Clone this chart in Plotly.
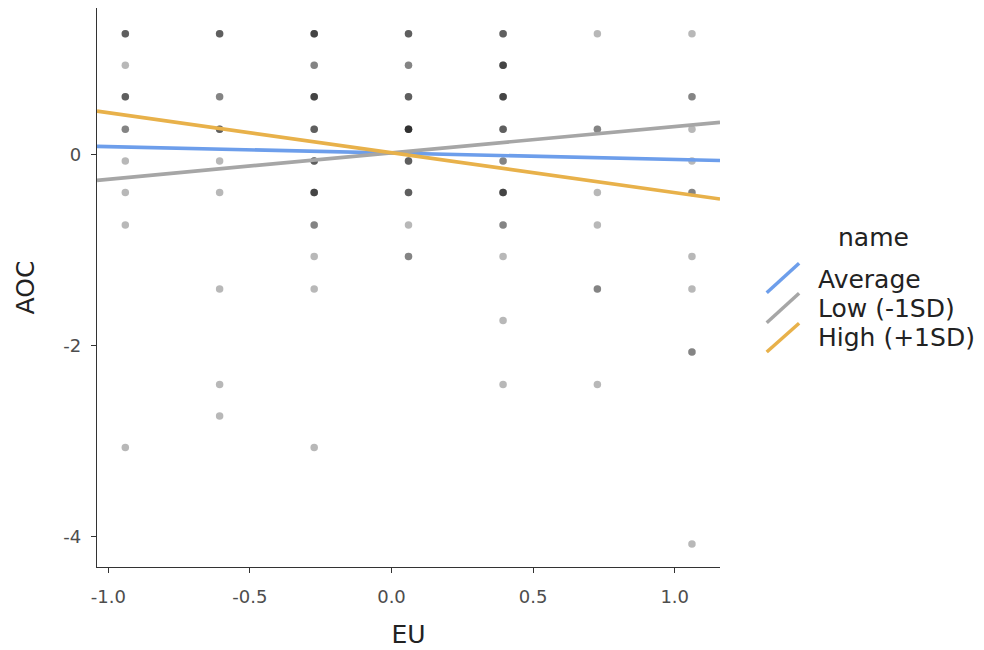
import plotly.graph_objects as go

# ---------------- data ----------------
# scatter observations grouped by (EU, AOC) with number of overlapping points
point_eu = (
    [-0.94] * 8 + [-0.607] * 8 + [-0.273] * 10 + [0.06] * 8 +
    [0.394] * 10 + [0.727] * 6 + [1.061] * 9
)
point_aoc = [
    1.26, 0.93, 0.60, 0.26, -0.07, -0.40, -0.74, -3.07,
    1.26, 0.60, 0.26, -0.07, -0.40, -1.41, -2.41, -2.74,
    1.26, 0.93, 0.60, 0.26, -0.07, -0.40, -0.74, -1.07, -1.41, -3.07,
    1.26, 0.93, 0.60, 0.26, -0.07, -0.40, -0.74, -1.07,
    1.26, 0.93, 0.60, 0.26, -0.07, -0.40, -0.74, -1.07, -1.74, -2.41,
    1.26, 0.26, -0.40, -0.74, -1.41, -2.41,
    1.26, 0.60, 0.26, -0.07, -0.40, -1.07, -1.41, -2.07, -4.08,
]
point_count = [
    3, 1, 3, 2, 1, 1, 1, 1,
    3, 2, 3, 1, 1, 1, 1, 1,
    4, 2, 4, 3, 3, 4, 2, 1, 1, 1,
    3, 2, 3, 5, 3, 3, 1, 2,
    3, 4, 4, 3, 2, 4, 2, 1, 1, 1,
    1, 2, 1, 1, 2, 1,
    1, 2, 1, 1, 2, 1, 1, 2, 1,
]

# simple slopes (moderator levels)
line_names = ["Average", "Low (-1SD)", "High (+1SD)"]
line_intercepts = [0.012, 0.014, 0.016]
line_slopes = [-0.067, 0.276, -0.418]
line_colors = ["#6d9eeb", "#a6a6a6", "#e8b14a"]

x_range = [-1.04, 1.16]
y_range = [-4.32, 1.53]
x_ticks = [-1.0, -0.5, 0.0, 0.5, 1.0]
x_ticklabels = ["-1.0", "-0.5", "0.0", "0.5", "1.0"]
y_ticks = [-4, -2, 0]
y_ticklabels = ["-4", "-2", "0"]

# expand grouped observations into individual points
obs_x, obs_y = [], []
for ex, ay, n in zip(point_eu, point_aoc, point_count):
    obs_x += [ex] * n
    obs_y += [ay] * n

FONT = "DejaVu Sans"

fig = go.Figure()
fig.add_trace(go.Scatter(
    x=obs_x, y=obs_y, mode="markers",
    marker=dict(color="black", size=7.5, opacity=0.28, line=dict(width=0)),
    showlegend=False, hoverinfo="skip",
))

for name, b0, b1, col in zip(line_names, line_intercepts, line_slopes, line_colors):
    fig.add_trace(go.Scatter(
        x=x_range, y=[b0 + b1 * x for x in x_range], mode="lines",
        line=dict(color=col, width=3.7), name=name, showlegend=False,
    ))

# custom legend (diagonal key glyphs like ggplot's abline keys)
glyph_y = [(0.4907, 0.5433), (0.437, 0.4896), (0.3846, 0.436)]
text_y = [0.515, 0.463, 0.411]
for name, col, (gy0, gy1), ty in zip(line_names, line_colors, glyph_y, text_y):
    fig.add_shape(type="line", xref="paper", yref="paper",
                  x0=1.075, x1=1.127, y0=gy0, y1=gy1,
                  line=dict(color=col, width=3.5))
    fig.add_annotation(xref="paper", yref="paper", x=1.154, y=ty,
                       text=name, showarrow=False, xanchor="left", yanchor="middle",
                       font=dict(family=FONT, size=25, color="#222222"))
fig.add_annotation(xref="paper", yref="paper", x=1.2456, y=0.5886,
                   text="name", showarrow=False, xanchor="center", yanchor="middle",
                   font=dict(family=FONT, size=25, color="#222222"))

axis_common = dict(
    showgrid=False, zeroline=False, showline=True, linecolor="#333333", linewidth=1.3,
    ticks="outside", ticklen=5, tickcolor="#333333", tickwidth=1.3,
    tickfont=dict(family=FONT, size=18, color="#4d4d4d"),
)
fig.update_xaxes(range=x_range, tickvals=x_ticks, ticktext=x_ticklabels,
                 title=dict(text="EU", font=dict(family=FONT, size=25, color="#222222"), standoff=19),
                 ticklabelstandoff=8, **axis_common)
fig.update_yaxes(range=y_range, tickvals=y_ticks, ticktext=y_ticklabels,
                 title=dict(text="AOC", font=dict(family=FONT, size=25, color="#222222"), standoff=21),
                 ticklabelstandoff=6, **axis_common)

# page body has an 8px margin, so the figure is sized to fit the window
fig.update_layout(
    width=976, height=642,
    margin=dict(l=89, r=264, t=0, b=83, autoexpand=False),
    plot_bgcolor="white", paper_bgcolor="white",
    showlegend=False,
)

fig.write_html("out.html")
